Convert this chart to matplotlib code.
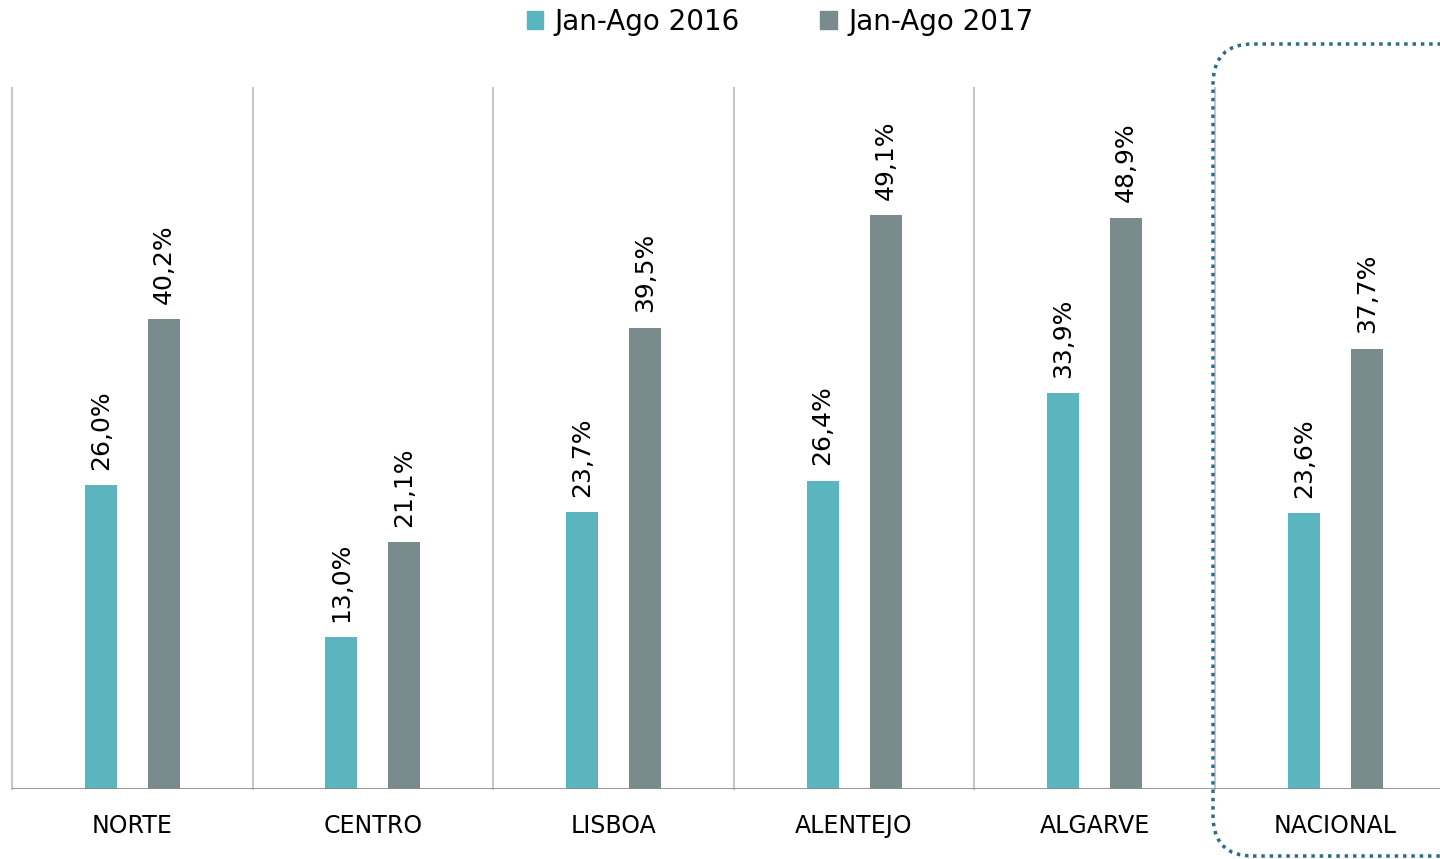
import numpy as np
import matplotlib
matplotlib.use('Agg')
import matplotlib.pyplot as plt
from matplotlib.patches import Patch, FancyBboxPatch

plt.rcParams['font.family'] = ['DejaVu Sans']

regions = ['NORTE', 'CENTRO', 'LISBOA', 'ALENTEJO', 'ALGARVE', 'NACIONAL']
series_names = ['Jan-Ago 2016', 'Jan-Ago 2017']
values_2016 = [26.0, 13.0, 23.7, 26.4, 33.9, 23.6]
values_2017 = [40.2, 21.1, 39.5, 49.1, 48.9, 37.7]

teal = '#5AB5BF'
grey = '#7A8B8D'

W, H = 1440, 859
fig = plt.figure(figsize=(W / 100, H / 100), dpi=100)

# plot area in pixels: left 12, baseline 789, top 88, one category ~240.6 px
cat_w = 240.6
ax = fig.add_axes([12 / W, (H - 789) / H, 6 * cat_w / W, (789 - 88) / H])
ax.set_xlim(-0.5, 5.5)
ax.set_ylim(0, 60)

x = np.arange(len(regions))
bw = 32 / cat_w
off = 31.5 / cat_w
b1 = ax.bar(x - off, values_2016, width=bw, color=teal, zorder=3)
b2 = ax.bar(x + off, values_2017, width=bw, color=grey, zorder=3)

for bars in (b1, b2):
    for rect in bars:
        v = rect.get_height()
        ax.annotate(f'{v:.1f}%'.replace('.', ','),
                    (rect.get_x() + rect.get_width() / 2, v),
                    xytext=(0, 11), textcoords='offset points',
                    rotation=90, ha='center', va='bottom', fontsize=18, color='black')

# separators between categories
for s in np.arange(-0.5, 6.0, 1.0):
    ax.plot([s, s], [0, 60], color='#C8C8C8', lw=1.5, zorder=1, clip_on=False)
ax.axhline(0, color='#8C8C8C', lw=2, zorder=4)

for sp in ax.spines.values():
    sp.set_visible(False)
ax.set_yticks([])
ax.set_xticks(x)
ax.set_xticklabels(regions, fontsize=17)
ax.tick_params(axis='x', length=0, pad=18)

handles = [Patch(color=teal, label=series_names[0]), Patch(color=grey, label=series_names[1])]
fig.legend(handles=handles, loc='center', bbox_to_anchor=(780 / W, 1 - 22 / H), ncol=2,
           frameon=False, fontsize=20, handlelength=0.6, handleheight=0.6,
           handletextpad=0.4, columnspacing=2.9)

# dotted rounded box around NACIONAL
box = FancyBboxPatch((12.13, 0.03), 2.8, 8.12, boxstyle='round,pad=0,rounding_size=0.4',
                     transform=fig.dpi_scale_trans, fill=False, edgecolor='#2B6C8A',
                     linestyle=(0, (1, 1.4)), lw=2.5, clip_on=False)
fig.patches.append(box)

fig.savefig('out.png', dpi=100)
